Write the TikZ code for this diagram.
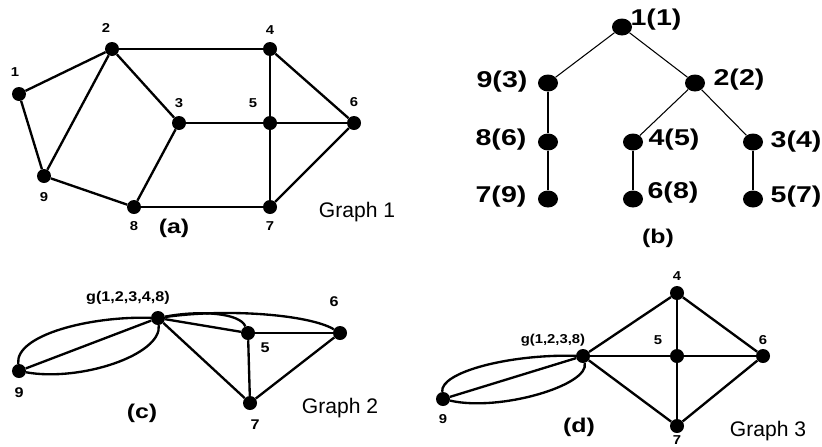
\documentclass[tikz,border=0pt]{standalone}
\usepackage{fontspec}
\setmainfont{Liberation Sans}
\newfontfamily\lblfont[FakeStretch=1.15]{Liberation Sans}
\newfontfamily\treefont[FakeStretch=1.25]{Liberation Sans}
\usetikzlibrary{shapes.geometric}

\begin{document}
\begin{tikzpicture}[x=0.03cm, y=-0.03cm,
    dot/.style={circle, fill=black, inner sep=0pt, minimum size=0.42cm},
    tdot/.style={ellipse, fill=black, inner sep=0pt, minimum width=0.6cm, minimum height=0.51cm},
    lbl/.style={inner sep=0pt, font=\lblfont\bfseries\fontsize{11}{11}\selectfont},
    lblc/.style={inner sep=0pt, font=\lblfont\bfseries\fontsize{12}{12}\selectfont},
    tlbl/.style={inner sep=0pt, font=\treefont\bfseries\fontsize{19.5}{19.5}\selectfont},
    captxt/.style={inner sep=0pt, font=\treefont\bfseries\fontsize{17}{17}\selectfont},
    gname/.style={inner sep=0pt, font=\fontsize{18}{18}\selectfont},
    edge/.style={line width=2pt},
    tedge/.style={line width=0.9pt}
  ]
    \useasboundingbox (0,0) rectangle (822,446);

    % ── (a) Graph 1
    \node[dot] (a1) at (19,94) {};
    \node[dot] (a2) at (112,49) {};
    \node[dot] (a3) at (179,123) {};
    \node[dot] (a4) at (270,49) {};
    \node[dot] (a5) at (270,123) {};
    \node[dot] (a6) at (354,123) {};
    \node[dot] (a7) at (270,207) {};
    \node[dot] (a8) at (134,207) {};
    \node[dot] (a9) at (44,176) {};
    \node[lbl] (la1) at (15,72) {1};
    \node[lbl] (la2) at (106,28) {2};
    \node[lbl] (la3) at (179,103) {3};
    \node[lbl] (la4) at (270,30) {4};
    \node[lbl] (la5) at (253,103) {5};
    \node[lbl] (la6) at (354,102) {6};
    \node[lbl] (la7) at (270,226) {7};
    \node[lbl] (la8) at (134,226) {8};
    \node[lbl] (la9) at (44,197) {9};
    \node[captxt] (capa) at (174,228) {(a)};
    \node[gname] (ga) at (357,212) {Graph 1};

    \draw[edge] (a1) -- (a2);
    \draw[edge] (a1) -- (a9);
    \draw[edge] (a2) -- (a9);
    \draw[edge] (a2) -- (a3);
    \draw[edge] (a2) -- (a4);
    \draw[edge] (a4) -- (a5);
    \draw[edge] (a4) -- (a6);
    \draw[edge] (a3) -- (a5);
    \draw[edge] (a5) -- (a6);
    \draw[edge] (a3) -- (a8);
    \draw[edge] (a9) -- (a8);
    \draw[edge] (a8) -- (a7);
    \draw[edge] (a5) -- (a7);
    \draw[edge] (a7) -- (a6);

    % ── (b) spanning tree
    \node[tdot] (b1) at (622,27) {};
    \node[tdot] (b9) at (548,83) {};
    \node[tdot] (b2) at (695,83) {};
    \node[tdot] (b8) at (548,142) {};
    \node[tdot] (b4) at (633,142) {};
    \node[tdot] (b3) at (753,142) {};
    \node[tdot] (b7) at (548,199) {};
    \node[tdot] (b6) at (633,199) {};
    \node[tdot] (b5) at (753,199) {};
    \node[tlbl] (lb1) at (656,20) {1(1)};
    \node[tlbl] (lb9) at (502,82) {9(3)};
    \node[tlbl] (lb2) at (739,80) {2(2)};
    \node[tlbl] (lb8) at (501,140) {8(6)};
    \node[tlbl] (lb4) at (674,140) {4(5)};
    \node[tlbl] (lb3) at (796,142) {3(4)};
    \node[tlbl] (lb7) at (501,197) {7(9)};
    \node[tlbl] (lb6) at (673,193) {6(8)};
    \node[tlbl] (lb5) at (796,197) {5(7)};
    \node[captxt] (capb) at (658,238) {(b)};

    \draw[tedge] (b1) -- (b9);
    \draw[tedge] (b1) -- (b2);
    \draw[tedge] (b9) -- (b8);
    \draw[tedge] (b8) -- (b7);
    \draw[tedge] (b2) -- (b4);
    \draw[tedge] (b2) -- (b3);
    \draw[tedge] (b4) -- (b6);
    \draw[tedge] (b3) -- (b5);

    % ── (c) Graph 2
    \node[dot] (cg) at (158,318) {};
    \node[dot] (c5) at (248,333) {};
    \node[dot] (c6) at (340,333) {};
    \node[dot] (c7) at (250,403) {};
    \node[dot] (c9) at (19,371) {};
    \node[lblc] (lcg) at (128,298) {g(1,2,3,4,8)};
    \node[lblc] (lc5) at (265,348) {5};
    \node[lblc] (lc6) at (334,302) {6};
    \node[lblc] (lc7) at (255,425) {7};
    \node[lblc] (lc9) at (19,393) {9};
    \node[captxt] (capc) at (142,413) {(c)};
    \node[gname] (gc) at (340,408) {Graph 2};

    \draw[edge] (cg) -- (c9);
    \draw[edge] (cg) .. controls (90,316) and (15,335) .. (c9);
    \draw[edge] (c9) .. controls (80,382) and (162,355) .. (cg);
    \draw[edge] (cg) -- (c5);
    \draw[edge] (cg) .. controls (200,310) and (240,313) .. (c5);
    \draw[edge] (cg) .. controls (230,308) and (310,315) .. (c6);
    \draw[edge] (cg) -- (c7);
    \draw[edge] (c5) -- (c6);
    \draw[edge] (c5) -- (c7);
    \draw[edge] (c7) -- (c6);

    % ── (d) Graph 3
    \node[dot] (dg) at (583,356) {};
    \node[dot] (d4) at (677,293) {};
    \node[dot] (d5) at (677,356) {};
    \node[dot] (d6) at (763,356) {};
    \node[dot] (d7) at (677,426) {};
    \node[dot] (d9) at (443,399) {};
    \node[lbl] (ldg) at (553,340) {g(1,2,3,8)};
    \node[lbl] (ld4) at (677,276) {4};
    \node[lbl] (ld5) at (658,340) {5};
    \node[lbl] (ld6) at (763,340) {6};
    \node[lbl] (ld7) at (677,440) {7};
    \node[lbl] (ld9) at (443,419) {9};
    \node[captxt] (capd) at (579,427) {(d)};
    \node[gname] (gd) at (768,431) {Graph 3};

    \draw[edge] (dg) -- (d9);
    \draw[edge] (dg) .. controls (510,354) and (440,372) .. (d9);
    \draw[edge] (d9) .. controls (500,412) and (590,385) .. (dg);
    \draw[edge] (dg) -- (d4);
    \draw[edge] (dg) -- (d5);
    \draw[edge] (dg) -- (d7);
    \draw[edge] (d4) -- (d5);
    \draw[edge] (d4) -- (d6);
    \draw[edge] (d5) -- (d6);
    \draw[edge] (d5) -- (d7);
    \draw[edge] (d7) -- (d6);
  \end{tikzpicture}
\end{document}
